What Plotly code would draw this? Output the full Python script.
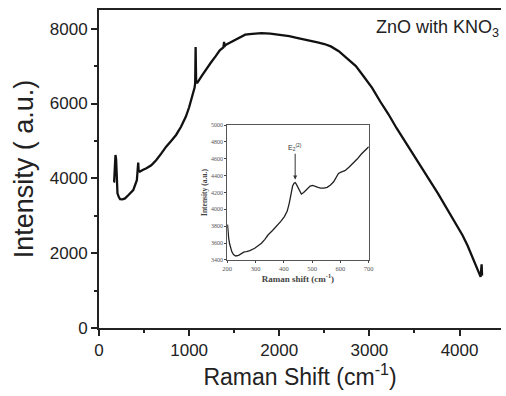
import plotly.graph_objects as go

# Main Raman spectrum
main_x = [160, 168, 176, 183, 190, 198, 205, 220, 234, 260, 289, 330, 380, 420, 435, 440, 453, 490, 526, 580,
          636, 690, 745, 800, 855, 910, 964, 1000, 1037, 1060, 1067, 1072, 1075, 1078, 1092, 1140, 1183,
          1240, 1293, 1340, 1380, 1388, 1392, 1400, 1440, 1476, 1550, 1622, 1700, 1804, 1900,
          2024, 2110, 2206, 2320, 2425, 2500, 2572, 2660, 2754, 2850, 2937, 3030, 3120, 3210, 3302,
          3390, 3485, 3580, 3667, 3760, 3850, 3940, 4033, 4090, 4142, 4190, 4220, 4234, 4245, 4250]
main_y = [3900, 3910, 4300, 4625, 4500, 3900, 3600, 3500, 3446, 3440, 3464, 3560, 3687, 3950, 4420, 4200, 4180, 4230, 4268, 4350,
          4490, 4660, 4848, 5000, 5160, 5380, 5650, 5900, 6190, 6420, 6545, 7510, 7000, 6560, 6560, 6740, 6900,
          7090, 7260, 7420, 7500, 7650, 7520, 7560, 7610, 7660, 7760, 7840, 7860, 7884, 7870,
          7840, 7800, 7750, 7700, 7634, 7590, 7527, 7400, 7214, 7000, 6723, 6420, 6054, 5720, 5340,
          5010, 4670, 4300, 3955, 3600, 3240, 2860, 2480, 2200, 1900, 1620, 1450, 1366, 1700, 1400]

# Inset spectrum
inset_x = [201, 202, 205, 208, 212, 216, 222, 230, 240, 251, 260, 268, 280, 297, 310, 321, 333, 344, 360, 379,
           390, 402, 412, 419, 425, 431, 436, 440, 444, 448, 455, 462, 470, 477, 485, 493, 502, 512, 521, 530,
           541, 553, 565, 576, 585, 593, 604, 616, 630, 645, 660, 674, 688, 700]
inset_y = [3820, 3756, 3660, 3598, 3540, 3499, 3465, 3447, 3455, 3479, 3495, 3499, 3510, 3538, 3565, 3598, 3645, 3696, 3750, 3815,
           3860, 3914, 3980, 4072, 4180, 4277, 4310, 4317, 4300, 4270, 4220, 4183, 4200, 4222, 4255, 4277, 4285, 4277, 4262, 4253,
           4252, 4261, 4290, 4328, 4380, 4427, 4445, 4459, 4500, 4546, 4600, 4657, 4700, 4743]

main_xticks = [0, 1000, 2000, 3000, 4000]
main_yticks = [0, 2000, 4000, 6000, 8000]
inset_xticks = [200, 300, 400, 500, 600, 700]
inset_yticks = [3400, 3600, 3800, 4000, 4200, 4400, 4600, 4800, 5000]

fig = go.Figure()
fig.add_trace(go.Scatter(x=main_x, y=main_y, mode="lines",
                         line=dict(color="#111", width=2.3), showlegend=False))
fig.add_trace(go.Scatter(x=inset_x, y=inset_y, mode="lines", xaxis="x2", yaxis="y2",
                         line=dict(color="#222", width=1.3), showlegend=False))

fig.update_layout(
    width=506, height=396,
    margin=dict(l=99, r=0, t=10, b=68),
    paper_bgcolor="white", plot_bgcolor="white",
    font=dict(family="Liberation Sans, Arial", color="#222"),
    xaxis=dict(range=[0, 4460], tickvals=main_xticks, ticks="outside", ticklen=6, tickwidth=1.5,
               tickcolor="#222", showline=True, linecolor="#222", linewidth=2, mirror=True,
               showgrid=False, zeroline=False, tickfont=dict(size=17),
               minor=dict(tickvals=[500, 1500, 2500, 3500], ticks="outside", ticklen=3, tickcolor="#222"),
               title=dict(text="Raman Shift (cm<sup>-1</sup>)", font=dict(size=23), standoff=6)),
    yaxis=dict(range=[0, 8500], tickvals=main_yticks, ticks="outside", ticklen=6, tickwidth=1.5,
               tickcolor="#222", showline=True, linecolor="#222", linewidth=2,
               showgrid=False, zeroline=False, tickfont=dict(size=17),
               minor=dict(tickvals=[1000, 3000, 5000, 7000], ticks="outside", ticklen=3, tickcolor="#222"),
               title=dict(text="Intensity ( a.u.)", font=dict(size=27), standoff=8)),
    xaxis2=dict(domain=[0.319, 0.671], anchor="y2", range=[200, 700], tickvals=inset_xticks,
                ticks="outside", ticklen=2, tickcolor="#444", showline=True, linecolor="#555",
                linewidth=1, mirror=True, showgrid=False, zeroline=False,
                tickfont=dict(size=6.5, family="Liberation Serif", color="#555"),
                title=dict(text="<b>Raman shift (cm<sup>-1</sup>)</b>",
                           font=dict(size=9, family="Liberation Serif", color="#444"), standoff=2)),
    yaxis2=dict(domain=[0.214, 0.638], anchor="x2", range=[3400, 5000], tickvals=inset_yticks,
                ticks="outside", ticklen=2, tickcolor="#444", showline=True, linecolor="#555",
                linewidth=1, mirror=True, showgrid=False, zeroline=False,
                tickfont=dict(size=6, family="Liberation Serif", color="#555"),
                title=dict(text="<b>Intensity (a.u.)</b>",
                           font=dict(size=7.5, family="Liberation Serif", color="#444"), standoff=2)),
    annotations=[
        dict(text="ZnO with KNO<sub>3</sub>", x=1.0, y=0.985, xref="paper", yref="paper",
             xanchor="right", yanchor="top", showarrow=False, font=dict(size=18, color="#222")),
        dict(text="E<sub>2</sub><sup>(2)</sup>", x=440, y=4330, xref="x2", yref="y2",
             ax=440, ay=4660, axref="x2", ayref="y2", showarrow=True, arrowhead=2, arrowsize=0.8,
             arrowwidth=1, arrowcolor="#333", font=dict(size=7, family="Liberation Sans", color="#333"),
             yanchor="bottom", standoff=2),
    ],
)

fig.write_html("out.html")
